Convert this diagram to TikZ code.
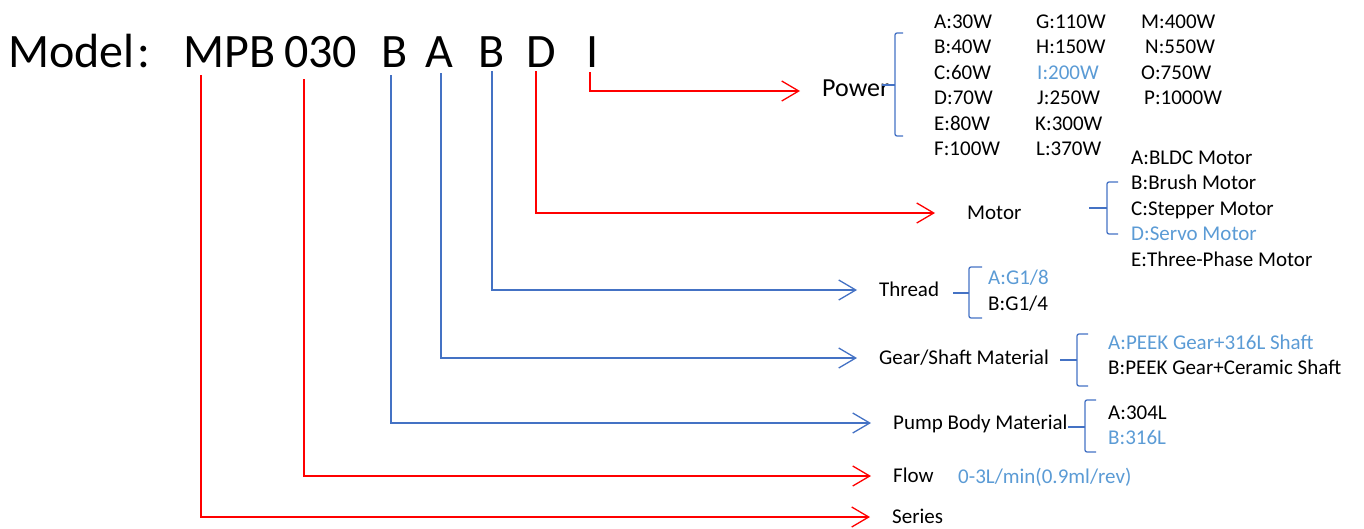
\documentclass[tikz,border=0pt]{standalone}
\usepackage{fontspec}
\setmainfont{Carlito}
\usetikzlibrary{arrows.meta}
\usetikzlibrary{positioning}
\definecolor{lineblue}{HTML}{4472C4}
\definecolor{optblue}{HTML}{5B9BD5}
\definecolor{linered}{HTML}{FF0000}
\tikzset{
  code/.style={anchor=base west, inner sep=0pt, text depth=0pt, font=\fontsize{48pt}{56pt}\selectfont},
  lbl/.style={anchor=west, inner sep=0pt, text height=13.5pt, text depth=0pt, font=\fontsize{21pt}{25pt}\selectfont},
  sel/.style={lbl, text=optblue},
  powerlbl/.style={anchor=west, inner sep=0pt, text height=16.7pt, text depth=0pt, font=\fontsize{26pt}{30pt}\selectfont},
  redarrow/.style={linered, line width=1.3pt, -{Straight Barb[length=17pt,width=20pt]}, shorten >=22pt},
  bluearrow/.style={lineblue, line width=1.3pt, -{Straight Barb[length=17pt,width=20pt]}, shorten >=22pt},
  brace/.style={lineblue, line width=1.3pt, rounded corners=2pt}
}
\begin{document}
\begin{tikzpicture}[x=1pt, y=-1pt]
    \useasboundingbox (0,0) rectangle (1364,528);
    % model code
    \node[code] at (8,67) (model) {Model\kern3pt:};
    \node[code] at (183,67) (mpb) {MPB};
    \node[code] at (284,67) (num) {030};
    \node[code] at (381,67) (body) {B};
    \node[code] at (425,67) (gear) {A};
    \node[code] at (478,67) (thread) {B};
    \node[code] at (526,67) (motor) {D};
    \node[code] at (586,67) (power) {I};
    % labels
    \node[powerlbl] at (822,88) (Power) {Power};
    \node[lbl] at (967,213) (Motor) {Motor};
    \node[lbl] at (879,290) (Thread) {Thread};
    \node[lbl] at (879,358) (Gear) {Gear/Shaft Material};
    \node[lbl] at (893,423) (Body) {Pump Body Material};
    \node[lbl] at (893,476) (Flow) {Flow};
    \node[lbl] at (892,517) (Series) {Series};
    % connectors
    \draw[redarrow] ([xshift=18pt,yshift=-8pt]mpb.south west) |- (Series.west);
    \draw[redarrow] ([xshift=20pt,yshift=-12pt]num.south west) |- (Flow.west);
    \draw[bluearrow] ([xshift=10pt,yshift=-8pt]body.south west) |- (Body.west);
    \draw[bluearrow] ([xshift=16pt,yshift=-6pt]gear.south west) |- (Gear.west);
    \draw[bluearrow] ([xshift=14pt,yshift=-4pt]thread.south west) |- (Thread.west);
    \draw[redarrow, shorten >=32pt] ([xshift=10pt,yshift=-4pt]motor.south west) |- (Motor.west);
    \draw[redarrow] ([xshift=4pt,yshift=-5pt]power.south west) |- ([yshift=-3pt]Power.west);
    % power options
    \draw[brace] (903,33) -- (895,33) -- (895,136) -- (903,136);
    \draw[brace] (882,85) -- (895,85);
    \node[lbl] at (934,22) (pA) {A:30W};
    \node[lbl] at (934,47) (pB) {B:40W};
    \node[lbl] at (934,73) (pC) {C:60W};
    \node[lbl] at (934,98) (pD) {D:70W};
    \node[lbl] at (934,124) (pE) {E:80W};
    \node[lbl] at (934,149) (pF) {F:100W};
    \node[lbl] at (1036,22) (pG) {G:110W};
    \node[lbl] at (1036,47) (pH) {H:150W};
    \node[sel] at (1037,73) (pI) {I:200W};
    \node[lbl] at (1037,98) (pJ) {J:250W};
    \node[lbl] at (1035,124) (pK) {K:300W};
    \node[lbl] at (1036,149) (pL) {L:370W};
    \node[lbl] at (1141,22) (pM) {M:400W};
    \node[lbl] at (1145,47) (pN) {N:550W};
    \node[lbl] at (1141,73) (pO) {O:750W};
    \node[lbl] at (1144,98) (pP) {P:1000W};
    % motor options
    \draw[brace] (1118,182) -- (1107,182) -- (1107,234) -- (1118,234);
    \draw[brace] (1089,208) -- (1107,208);
    \node[lbl] at (1131,158) (mA) {A:BLDC Motor};
    \node[lbl] at (1131,183) (mB) {B:Brush Motor};
    \node[lbl] at (1131,209) (mC) {C:Stepper Motor};
    \node[sel] at (1131,234) (mD) {D:Servo Motor};
    \node[lbl] at (1131,260) (mE) {E:Three-Phase Motor};
    % thread options
    \draw[brace] (982,267) -- (969,267) -- (969,318) -- (982,318);
    \draw[brace] (953,293) -- (969,293);
    \node[sel] at (988,278) (tA) {A:G1/8};
    \node[lbl] at (988,304) (tB) {B:G1/4};
    % gear/shaft options
    \draw[brace] (1088,334) -- (1077,334) -- (1077,386) -- (1088,386);
    \draw[brace] (1060,360) -- (1077,360);
    \node[sel] at (1108,343) (gA) {A:PEEK Gear+316L Shaft};
    \node[lbl] at (1108,368) (gB) {B:PEEK Gear+Ceramic Shaft};
    % body options
    \draw[brace] (1096,400) -- (1085,400) -- (1085,452) -- (1096,452);
    \draw[brace] (1068,427) -- (1085,427);
    \node[lbl] at (1108,413) (bA) {A:304L};
    \node[sel] at (1108,438) (bB) {B:316L};
    % flow value
    \node[sel] at (958,477) (fV) {0-3L/min(0.9ml/rev)};
\end{tikzpicture}
\end{document}
